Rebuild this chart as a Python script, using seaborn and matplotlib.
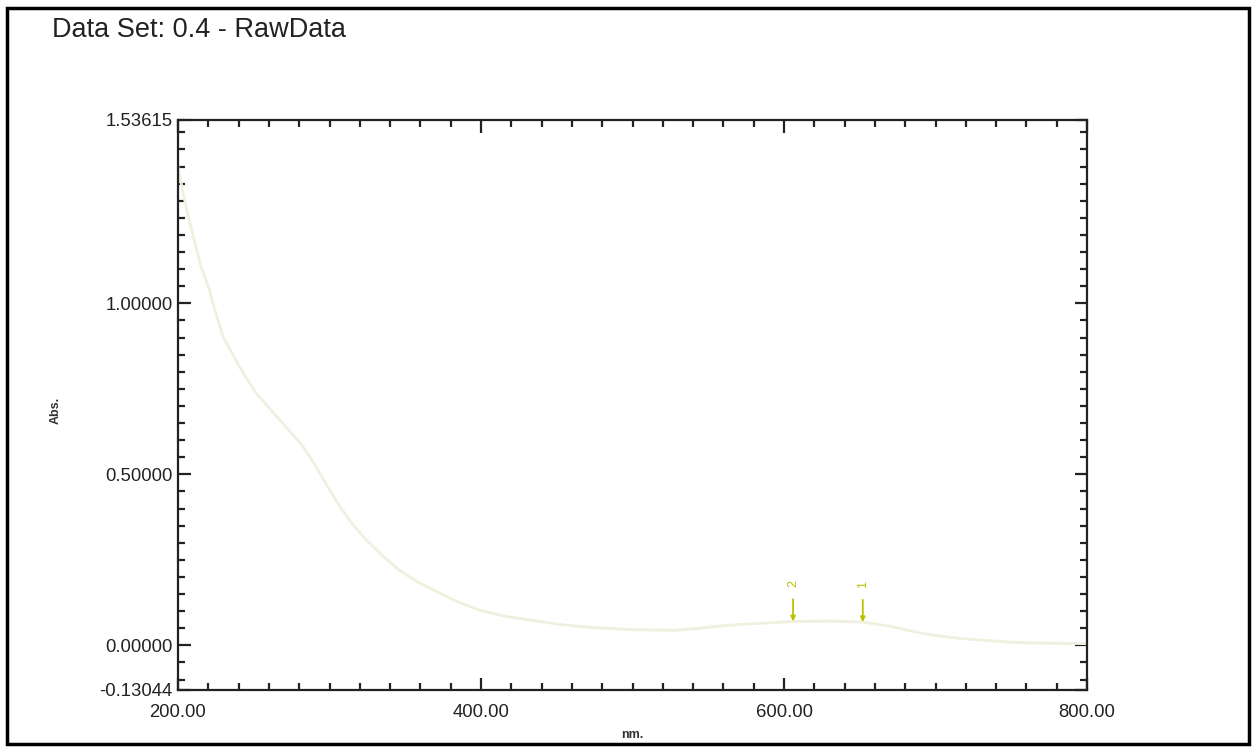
import numpy as np
import pandas as pd
import matplotlib
matplotlib.use("Agg")
import matplotlib.pyplot as plt
from matplotlib.patches import Rectangle
from matplotlib.ticker import MultipleLocator, FixedLocator
import seaborn as sns

# Absorbance spectrum (nm vs Abs.)
wavelength = [200, 203, 207, 211, 215, 220, 225, 230, 235, 240, 246, 252, 259,
              267, 274, 281, 288, 294, 300, 307, 315, 324, 335, 346, 359, 373,
              386, 399, 416, 434, 454, 474, 500, 527, 542, 556, 571, 586, 606,
              632, 652, 670, 684, 698, 715, 731, 748, 764, 782, 800]
absorbance = [1.40, 1.33, 1.25, 1.18, 1.11, 1.05, 0.97, 0.90, 0.86, 0.82, 0.775,
              0.735, 0.70, 0.66, 0.625, 0.59, 0.545, 0.50, 0.455, 0.405, 0.355,
              0.31, 0.262, 0.22, 0.183, 0.152, 0.125, 0.103, 0.085, 0.073, 0.060,
              0.052, 0.046, 0.044, 0.049, 0.056, 0.061, 0.065, 0.070, 0.071,
              0.068, 0.056, 0.042, 0.030, 0.021, 0.015, 0.010, 0.007, 0.006,
              0.005]

# Picked peaks
peak_labels = ["2", "1"]
peak_nm = [606, 652]
peak_abs = [0.070, 0.068]

y_min, y_max = -0.13044, 1.53615
y_ticks = [-0.13044, 0.0, 0.5, 1.0, 1.53615]
y_ticklabels = ["-0.13044", "0.00000", "0.50000", "1.00000", "1.53615"]
x_ticks = [200, 400, 600, 800]
x_ticklabels = ["200.00", "400.00", "600.00", "800.00"]

sns.set_style("white")
plt.rcParams["font.family"] = ["Liberation Sans", "DejaVu Sans"]

W, H = 1253, 747
fig = plt.figure(figsize=(W / 100, H / 100), dpi=100)
ax = fig.add_axes([178 / W, (H - 690) / H, (1087 - 178) / W, (690 - 120) / H])

df = pd.DataFrame({"nm": wavelength, "abs": absorbance})
sns.lineplot(data=df, x="nm", y="abs", ax=ax, color="#f1efdf", linewidth=2.0)

ax.set_xlim(200, 800)
ax.set_ylim(y_min, y_max)

ax.xaxis.set_major_locator(FixedLocator(x_ticks))
ax.set_xticklabels(x_ticklabels)
ax.xaxis.set_minor_locator(MultipleLocator(20))
ax.yaxis.set_major_locator(FixedLocator(y_ticks))
ax.set_yticklabels(y_ticklabels)
ax.yaxis.set_minor_locator(FixedLocator(np.arange(-0.10, 1.51, 0.05)))

ax.tick_params(axis="both", which="both", direction="in", top=True, right=True,
               bottom=True, left=True, color="#222222", width=1.6)
ax.tick_params(axis="both", which="major", length=9, labelsize=13.3,
               labelcolor="#222222", pad=4)
ax.tick_params(axis="both", which="minor", length=5)
ax.tick_params(axis="x", which="major", pad=10)

for s in ax.spines.values():
    s.set_visible(True)
    s.set_linewidth(1.6)
    s.set_color("#222222")

ax.set_ylabel("")
ax.set_xlabel("nm.", fontsize=9, fontweight="bold", color="#333333", labelpad=6)
fig.text(56 / W, 1 - 410 / H, "Abs.", rotation=90, fontsize=9, fontweight="bold",
         color="#333333", ha="center", va="center")

# Peak markers
mark_color = "#b9c200"
for lab, px, py in zip(peak_labels, peak_nm, peak_abs):
    ax.annotate("", xy=(px, py), xytext=(px, py + 0.065),
                arrowprops=dict(arrowstyle="-|>", color=mark_color, lw=1.3,
                                mutation_scale=7, shrinkA=0, shrinkB=0))
    ax.text(px, py + 0.11, lab, rotation=90, ha="center", va="center",
            fontsize=9, color=mark_color)

fig.text(52 / W, 1 - 30 / H, "Data Set: 0.4 - RawData", fontsize=19.5,
         ha="left", va="center", color="#222222")

fig.patches.append(Rectangle((7 / W, 1 - 744 / H), (1249 - 7) / W, (744 - 8) / H,
                             transform=fig.transFigure, fill=False,
                             edgecolor="black", linewidth=2.5))

fig.savefig("out.png", dpi=100, facecolor="white")
